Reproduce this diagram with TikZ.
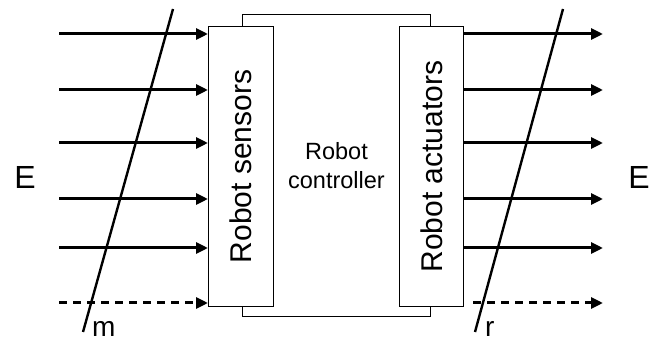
\documentclass[tikz,border=0pt]{standalone}
\usepackage{fontspec}
\setmainfont{Liberation Sans}
\usepackage{graphicx}
\usetikzlibrary{positioning, arrows.meta, calc}

\begin{document}
\begin{tikzpicture}[x=1pt, y=-1pt,
    box/.style={rectangle, draw, fill=white, inner sep=0pt, line width=1pt, align=center},
    arr/.style={-{Triangle[length=12pt, width=11pt]}, line width=3pt},
    cut/.style={line width=2.4pt},
    lbl/.style={font=\fontsize{32}{36}\selectfont},
    boxtxt/.style={font=\fontsize{30}{34}\selectfont},
  ]
    \useasboundingbox (0,0) rectangle (650,344);

    \node[box, anchor=north west, minimum width=188pt, minimum height=302pt, font=\fontsize{23.5}{29}\selectfont] (ctrl) at (242,14) {Robot\\controller};
    \node[box, boxtxt, anchor=north west, minimum width=65pt, minimum height=280pt] (sens) at (208,26) {\rotatebox{90}{Robot sensors}};
    \node[box, boxtxt, anchor=north west, minimum width=64pt, minimum height=280pt] (act) at (399,26) {\rotatebox{90}{Robot actuators}};

    \node[lbl] (envl) at (25,177) {E};
    \node[lbl] (envr) at (639,177) {E};

    \foreach \y [count=\i] in {34,90,143,199,248} {
      \coordinate (in\i) at (59,\y);
      \coordinate (out\i) at (603,\y);
      \draw[arr] (in\i) -- (in\i -| sens.west);
      \draw[arr] (out\i -| act.east) -- (out\i);
    }
    \coordinate (in6) at (59,303);
    \coordinate (out6s) at (473,303);
    \coordinate (out6) at (603,303);
    \draw[arr, dash pattern=on 8pt off 6pt] (in6) -- (in6 -| sens.west);
    \draw[arr, dash pattern=on 8pt off 6pt] (out6s) -- (out6);

    % cut lines
    \coordinate (mtop) at (173,9);
    \coordinate (mbot) at (83,332);
    \coordinate (rtop) at (563,9);
    \coordinate (rbot) at (475,332);
    \draw[cut] (mtop) -- (mbot);
    \draw[cut] (rtop) -- (rbot);
    \node[lbl, font=\fontsize{28}{32}\selectfont, anchor=base west, inner sep=0pt] (mlbl) at (92,336) {m};
    \node[lbl, font=\fontsize{28}{32}\selectfont, anchor=base west, inner sep=0pt] (rlbl) at (485,336) {r};
  \end{tikzpicture}
\end{document}
